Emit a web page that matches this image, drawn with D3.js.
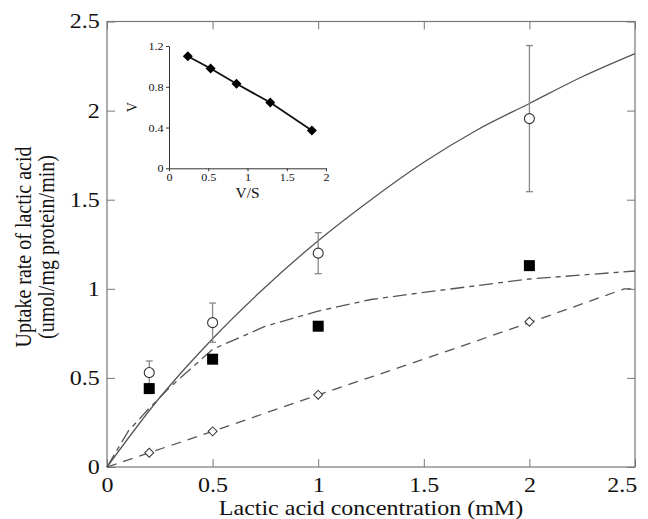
<!DOCTYPE html>
<meta charset="utf-8">
<script src="https://d3js.org/d3.v7.min.js"></script>
<style>
  body { margin: 0; background: #fff; }
  text { font-family: "Liberation Serif", "Times New Roman", serif; fill: #111; }
</style>
<div id="my_dataviz"></div>
<script>

// measured concentrations (mM)
var conc = [0.2, 0.5, 1, 2];

// open circles with error bars
var circleVals = [0.53, 0.81, 1.20, 1.955];
var circleErr = [0.065, 0.11, 0.115, 0.41];

// filled squares
var squareVals = [0.44, 0.605, 0.79, 1.13];

// open diamonds
var diamondVals = [0.08, 0.20, 0.405, 0.815];

// fitted curves
var solidX = [0, 0.25, 0.5, 0.75, 1, 1.25, 1.5, 1.75, 2, 2.25, 2.5];
var solidY = [0, 0.39, 0.72, 1.01, 1.27, 1.50, 1.71, 1.89, 2.04, 2.19, 2.32];

var dashDotX = [0, 0.1, 0.2, 0.3, 0.5, 0.75, 1.0, 1.25, 1.5, 2, 2.5];
var dashDotY = [0, 0.2, 0.33, 0.45, 0.66, 0.79, 0.875, 0.94, 0.98, 1.055, 1.10];

var dashX = [0, 0.2, 0.5, 1, 1.5, 2, 2.45, 2.5];
var dashY = [0, 0.08, 0.2, 0.405, 0.605, 0.81, 1.0, 1.0];

// inset (V vs V/S)
var insetVS = [0.24, 0.53, 0.86, 1.29, 1.82];
var insetV = [1.10, 0.98, 0.83, 0.645, 0.37];

// tick labels
var xTicks = [0, 0.5, 1, 1.5, 2, 2.5];
var xTickLabels = ["0", "0.5", "1", "1.5", "2", "2.5"];
var yTicks = [0, 0.5, 1, 1.5, 2, 2.5];
var yTickLabels = ["0", "0.5", "1", "1.5", "2", "2.5"];
var insetXTicks = [0, 0.5, 1, 1.5, 2];
var insetXTickLabels = ["0", "0.5", "1", "1.5", "2"];
var insetYTicks = [0, 0.4, 0.8, 1.2];
var insetYTickLabels = ["0", "0.4", "0.8", "1.2"];

var width = 648, height = 519;
var stretch = 1.2;   // text in the figure is a bit wider than tall
var axisColor = "#777";

var svg = d3.select("#my_dataviz")
  .append("svg")
    .attr("width", width)
    .attr("height", height);

var x = d3.scaleLinear().domain([0, 2.5]).range([107, 635]);
var y = d3.scaleLinear().domain([0, 2.5]).range([467, 21.5]);

function styleAxis(g) {
  g.selectAll("line").attr("stroke", axisColor);
  g.selectAll(".domain").remove();
}

// bottom axis
var gx = svg.append("g")
  .attr("transform", "translate(0," + y(0) + ")")
  .call(d3.axisBottom(x).tickValues(xTicks).tickSize(-8).tickSizeOuter(0).tickPadding(11)
    .tickFormat(function(d, i) { return xTickLabels[i]; }));
gx.call(styleAxis);
gx.selectAll("text").attr("font-size", 20).attr("transform", "scale(" + stretch + ",1)");
// last label sits inside the picture edge
gx.selectAll("text").filter(function(d) { return d === 2.5; }).attr("dx", -11);

// left axis
var gy = svg.append("g")
  .attr("transform", "translate(" + x(0) + ",0)")
  .call(d3.axisLeft(y).tickValues(yTicks).tickSize(-8).tickSizeOuter(0).tickPadding(6)
    .tickFormat(function(d, i) { return yTickLabels[i]; }));
gy.call(styleAxis);
gy.selectAll("text").attr("font-size", 20).attr("transform", "scale(" + stretch + ",1)");

// top and right mirror ticks
svg.append("g")
  .attr("transform", "translate(0," + y(2.5) + ")")
  .call(d3.axisTop(x).tickValues(xTicks).tickSize(-8).tickSizeOuter(0).tickFormat(""))
  .call(styleAxis);
svg.append("g")
  .attr("transform", "translate(" + x(2.5) + ",0)")
  .call(d3.axisRight(y).tickValues(yTicks).tickSize(-8).tickSizeOuter(0).tickFormat(""))
  .call(styleAxis);

// frame
svg.append("rect")
  .attr("x", x(0)).attr("y", y(2.5))
  .attr("width", x(2.5) - x(0)).attr("height", y(0) - y(2.5))
  .attr("fill", "none").attr("stroke", axisColor).attr("stroke-width", 1.2);

// axis titles
svg.append("text")
  .attr("transform", "translate(" + (x(0) + x(2.5)) / 2 + ",515) scale(" + stretch + ",1)")
  .attr("text-anchor", "middle")
  .attr("font-size", 20)
  .text("Lactic acid concentration (mM)");

svg.append("text")
  .attr("transform", "translate(31,247) scale(" + stretch + ",1) rotate(-90)")
  .attr("text-anchor", "middle")
  .attr("font-size", 20)
  .text("Uptake rate of lactic acid");

svg.append("text")
  .attr("transform", "translate(54,247) scale(" + stretch + ",1) rotate(-90)")
  .attr("text-anchor", "middle")
  .attr("font-size", 20)
  .text("(umol/mg protein/min)");

// curves
function curvePts(xs, ys) {
  return xs.map(function(d, i) { return [d, ys[i]]; });
}
var smoothLine = d3.line()
  .x(function(d) { return x(d[0]); })
  .y(function(d) { return y(d[1]); })
  .curve(d3.curveMonotoneX);
var plainLine = d3.line()
  .x(function(d) { return x(d[0]); })
  .y(function(d) { return y(d[1]); });

svg.append("path")
  .datum(curvePts(solidX, solidY))
  .attr("d", smoothLine)
  .attr("fill", "none").attr("stroke", "#555").attr("stroke-width", 1.3);

svg.append("path")
  .datum(curvePts(dashDotX, dashDotY))
  .attr("d", plainLine)
  .attr("fill", "none").attr("stroke", "#555").attr("stroke-width", 1.3)
  .attr("stroke-dasharray", "14,5,5,5");

svg.append("path")
  .datum(curvePts(dashX, dashY))
  .attr("d", plainLine)
  .attr("fill", "none").attr("stroke", "#555").attr("stroke-width", 1.3)
  .attr("stroke-dasharray", "10,7");

// error bars
var eb = svg.append("g").attr("stroke", "#888").attr("stroke-width", 1.3);
conc.forEach(function(c, i) {
  var lo = circleVals[i] - circleErr[i], hi = circleVals[i] + circleErr[i];
  eb.append("line").attr("x1", x(c)).attr("x2", x(c)).attr("y1", y(lo)).attr("y2", y(hi));
  eb.append("line").attr("x1", x(c) - 3.5).attr("x2", x(c) + 3.5).attr("y1", y(lo)).attr("y2", y(lo));
  eb.append("line").attr("x1", x(c) - 3.5).attr("x2", x(c) + 3.5).attr("y1", y(hi)).attr("y2", y(hi));
});

// open circles
svg.append("g").selectAll("circle")
  .data(conc)
  .enter().append("circle")
    .attr("cx", function(d) { return x(d); })
    .attr("cy", function(d, i) { return y(circleVals[i]); })
    .attr("r", 5)
    .attr("fill", "#fff").attr("stroke", "#333").attr("stroke-width", 1.1);

// filled squares
svg.append("g").selectAll("rect")
  .data(conc)
  .enter().append("rect")
    .attr("x", function(d) { return x(d) - 5.5; })
    .attr("y", function(d, i) { return y(squareVals[i]) - 5.5; })
    .attr("width", 11).attr("height", 11)
    .attr("fill", "#000");

// open diamonds
var diamond = d3.symbol().type(d3.symbolSquare).size(40);
svg.append("g").selectAll("path")
  .data(conc)
  .enter().append("path")
    .attr("d", diamond)
    .attr("transform", function(d, i) { return "translate(" + x(d) + "," + y(diamondVals[i]) + ") rotate(45)"; })
    .attr("fill", "#fff").attr("stroke", "#333").attr("stroke-width", 1);

// ---------- inset ----------
var ix = d3.scaleLinear().domain([0, 2]).range([169, 326]);
var iy = d3.scaleLinear().domain([0, 1.2]).range([168.3, 46]);

var gix = svg.append("g")
  .attr("transform", "translate(0," + iy(0) + ")")
  .call(d3.axisBottom(ix).tickValues(insetXTicks).tickSize(3).tickSizeOuter(0).tickPadding(2)
    .tickFormat(function(d, i) { return insetXTickLabels[i]; }));
gix.selectAll("line").attr("stroke", "#333");
gix.select(".domain").attr("stroke", "#333");
gix.selectAll("text").attr("font-size", 11).attr("transform", "scale(1.1,1)");

var giy = svg.append("g")
  .attr("transform", "translate(" + ix(0) + ",0)")
  .call(d3.axisLeft(iy).tickValues(insetYTicks).tickSize(3).tickSizeOuter(0).tickPadding(2)
    .tickFormat(function(d, i) { return insetYTickLabels[i]; }));
giy.selectAll("line").attr("stroke", "#333");
giy.select(".domain").attr("stroke", "#333");
giy.selectAll("text").attr("font-size", 11).attr("transform", "scale(1.1,1)");

svg.append("text")
  .attr("transform", "translate(" + (ix(0) + ix(2)) / 2 + ",198) scale(1.1,1)")
  .attr("text-anchor", "middle")
  .attr("font-size", 14)
  .text("V/S");

svg.append("text")
  .attr("transform", "translate(137," + iy(0.6) + ") rotate(-90)")
  .attr("text-anchor", "middle")
  .attr("font-size", 14)
  .text("V");

var insetPts = insetVS.map(function(d, i) { return [d, insetV[i]]; });
svg.append("path")
  .datum(insetPts)
  .attr("d", d3.line().x(function(d) { return ix(d[0]); }).y(function(d) { return iy(d[1]); }))
  .attr("fill", "none").attr("stroke", "#111").attr("stroke-width", 1.8);

var insetDiamond = d3.symbol().type(d3.symbolSquare).size(50);
svg.append("g").selectAll("path")
  .data(insetPts)
  .enter().append("path")
    .attr("d", insetDiamond)
    .attr("transform", function(d) { return "translate(" + ix(d[0]) + "," + iy(d[1]) + ") rotate(45)"; })
    .attr("fill", "#000");

</script>
